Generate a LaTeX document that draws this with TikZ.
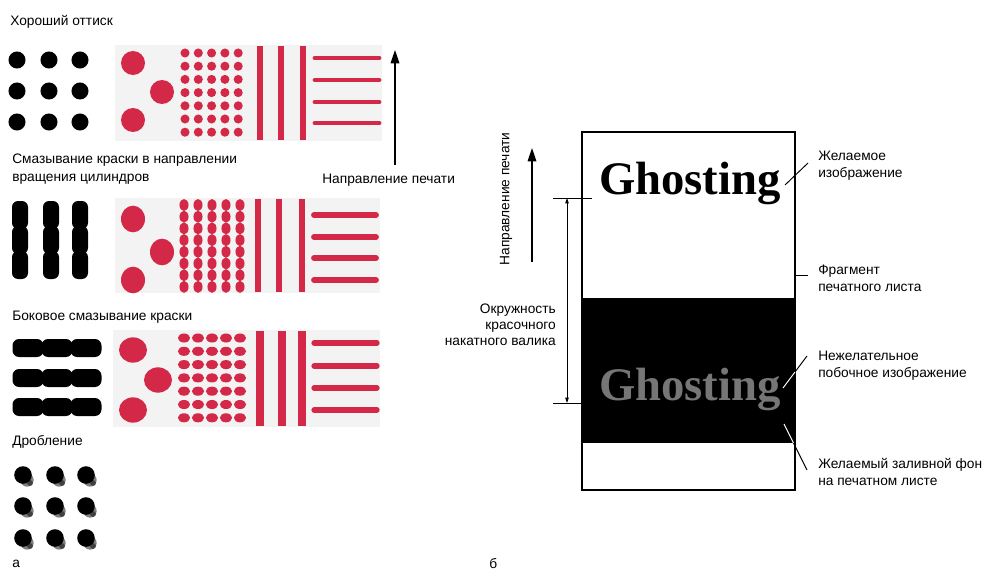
\documentclass[tikz,border=0pt]{standalone}
\usepackage{fontspec}
\setmainfont{Liberation Sans}
\newfontfamily\ghostfont{Liberation Serif}
\usetikzlibrary{arrows.meta}
\definecolor{inkred}{RGB}{212,40,72}
\definecolor{panelbg}{RGB}{243,243,243}
\definecolor{ghostgray}{RGB}{118,118,118}
\begin{document}
\begin{tikzpicture}[x=0.75pt,y=-0.75pt,
  lbl/.style={font=\fontsize{10.3}{13}\selectfont, inner sep=0pt, anchor=west, align=left},
  rlbl/.style={font=\fontsize{10.3}{12}\selectfont, inner sep=0pt, anchor=east, align=right},
  ghost/.style={font=\ghostfont\bfseries\fontsize{35}{40}\selectfont, inner sep=0pt, anchor=base},
  bigarrow/.style={line width=0.9pt, -{Triangle[length=10pt,width=6.5pt]}},
  dimarrow/.style={line width=0.6pt, {Triangle[length=4pt,width=2.6pt]}-{Triangle[length=4pt,width=2.6pt]}},
  leader/.style={line width=0.7pt},
  vbar/.style={inkred, line width=#1},
  hbar/.style={inkred, line width=#1, line cap=round}
]
\useasboundingbox (0,0) rectangle (995,574);

% ---------------- left part: labels ----------------
\node[lbl] (good) at (10,22) {Хороший оттиск};
\node[lbl] (smearv) at (12,169) {Смазывание краски в направлении\\вращения цилиндров};
\node[lbl] (dirl) at (322,180) {Направление печати};
\node[lbl] (smearh) at (12,317) {Боковое смазывание краски};
\node[lbl] (dbl) at (12,442) {Дробление};
\node[lbl] (la) at (12,564) {а};

% direction arrow
\coordinate (arrb) at (395,165);
\coordinate (arrt) at (395,50);
\draw[bigarrow] (arrb) -- (arrt);

% ---------------- black dots ----------------
% good
\foreach \x in {17,49,80} \foreach \y in {60,91,122}
  \fill (\x,\y) circle [radius=6.4pt];
% vertical smear (stadium shapes merging)
\foreach \x in {20,51,80} \foreach \y in {215,240,265}
  \fill[rounded corners=4.6pt] (\x-8,\y-14) rectangle (\x+8,\y+14);
% lateral smear
\foreach \x in {28,57,86} \foreach \y in {348,378,407}
  \fill[rounded corners=5pt] (\x-15.5,\y-9) rectangle (\x+15.5,\y+9);
% doubling
\foreach \x in {23,55,86} \foreach \y in {475,506,538} {
  \fill[black!50] (\x+4,\y+5) circle [radius=5pt];
  \fill[black!75] (\x+7,\y+8) circle [radius=2.2pt];
  \fill (\x,\y) circle [radius=6.6pt];
}

% ---------------- red panel 1 (good) ----------------
\fill[panelbg] (115,45) rectangle (382,141);
\foreach \p in {(133,63),(162,92),(133,120)} \fill[inkred] \p circle [radius=9pt];
\foreach \c in {0,...,4} \foreach \r in {0,...,6}
  \fill[inkred] (185+13.3*\c,53+13.2*\r) circle [radius=3.4pt];
\foreach \x in {260,281,303} \draw[vbar=3.8pt] (\x,46) -- (\x,140);
\foreach \y in {58,80,102,123} \draw[hbar=3.6pt] (315,\y) -- (379,\y);

% ---------------- red panel 2 (vertical smear) ----------------
\fill[panelbg] (115,198) rectangle (380,293);
\foreach \p in {(133,219),(162,252),(133,280)} \fill[inkred] \p ellipse [x radius=9pt, y radius=10pt];
\foreach \c in {0,...,4} \foreach \r in {0,...,7}
  \fill[inkred] (184+14*\c,205+11.7*\r) ellipse [x radius=3.4pt, y radius=4.5pt];
\foreach \x in {258,279,302} \draw[vbar=4.8pt] (\x,199) -- (\x,292);
\foreach \y in {215,237,258,280} \draw[hbar=4.4pt] (314,\y) -- (376,\y);

% ---------------- red panel 3 (lateral smear) ----------------
\fill[panelbg] (113,330) rectangle (380,427);
\foreach \p in {(133,350),(158,380),(133,410)} \fill[inkred] \p ellipse [x radius=10.5pt, y radius=9.5pt];
\foreach \c in {0,...,4} \foreach \r in {0,...,6}
  \fill[inkred] (184+14*\c,338+13.3*\r) ellipse [x radius=4.6pt, y radius=3.4pt];
\foreach \x in {260,282,302} \draw[vbar=6pt] (\x,331) -- (\x,426);
\foreach \y in {343,366,388,410} \draw[hbar=4pt] (314,\y) -- (377,\y);

% ---------------- right part ----------------
\fill (582,298) rectangle (795,443);
\draw[line width=0.9pt] (582,132) rectangle (795,490);
\node[ghost] (g1) at (690,195) {Ghosting};
\node[ghost, text=ghostgray] (g2) at (690,400) {Ghosting};

% right labels
\node[lbl] (want) at (818,166) {Желаемое\\изображение};
\node[lbl] (frag) at (818,278) {Фрагмент\\печатного листа};
\node[lbl] (unw) at (818,366) {Нежелательное\\побочное изображение};
\node[lbl] (bg) at (818,472) {Желаемый заливной фон\\на печатном листе};
\node[lbl] (lb) at (489,564) {б};

% leaders
\coordinate (w1) at (785,185); \coordinate (w2) at (808,163);
\draw[leader] (w1) -- (w2);
\coordinate (f1) at (795,275); \coordinate (f2) at (808,275);
\draw[leader] (f1) -- (f2);
\coordinate (u1) at (783,388); \coordinate (u2) at (807,356);
\coordinate (u3) at (795,372);
\draw[leader, white] (u1) -- (u3);
\draw[leader] (u3) -- (u2);
\coordinate (b1) at (784,424); \coordinate (b2) at (807,470);
\coordinate (b3) at (793.5,443);
\draw[leader, white] (b1) -- (b3);
\draw[leader] (b3) -- (b2);

% dimension
\coordinate (t1) at (553,198); \coordinate (t2) at (592,198);
\coordinate (t3) at (553,403); \coordinate (t4) at (582,403);
\draw[line width=0.7pt] (t1) -- (t2);
\draw[line width=0.7pt] (t3) -- (t4);
\coordinate (d1) at (567,198); \coordinate (d2) at (567,403);
\draw[dimarrow] (d1) -- (d2);
\node[rlbl] (circ) at (556,325) {Окружность\\красочного\\накатного валика};

% print direction (rotated)
\node[lbl, anchor=center, rotate=90] (dirr) at (506,199) {Направление печати};
\coordinate (ra) at (532,262); \coordinate (rb) at (532,148);
\draw[bigarrow] (ra) -- (rb);
\end{tikzpicture}
\end{document}
